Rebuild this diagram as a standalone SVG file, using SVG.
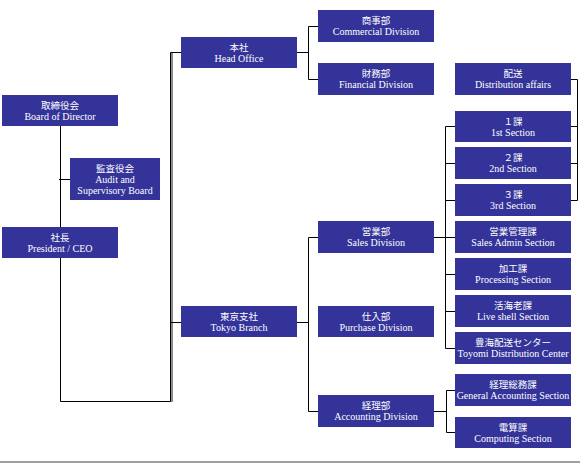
<svg xmlns="http://www.w3.org/2000/svg" width="580" height="463" viewBox="0 0 580 463">
<style>
.b{fill:#333399}
.t{fill:#ffffff;font-family:"Liberation Serif","Noto Sans CJK JP",serif;font-size:10px;text-anchor:middle}
.j{font-size:9.5px}
.c{stroke:#000;stroke-width:1;fill:none}
</style>
<rect width="580" height="463" fill="#fff"/>
<g id="connectors">
<rect x="171" y="53" width="2" height="349" fill="#8a8a8a"/>
<path class="c" d="M60.5,126V401.5H170.5V52.5H181"/>
<path class="c" d="M59,179.5H70"/>
<path class="c" d="M297,52.5H308.5M308.5,26.5V79.5M308.5,26.5H318M308.5,79.5H318"/>
<path class="c" d="M170.5,322.5H181M297,322.5H308.5M308.5,237.5V411.5M308.5,237.5H318M308.5,411.5H318"/>
<path class="c" d="M434,237.5H445.5M445.5,126.5V348.5M445.5,126.5H455M445.5,163.5H455M445.5,200.5H455M445.5,237.5H455M445.5,274.5H455M445.5,311.5H455M445.5,348.5H455"/>
<path class="c" d="M571,79.5H577.5V200.5H571M571,126.5H577.5M571,163.5H577.5"/>
<path class="c" d="M434,411.5H446.5M446.5,390.5V432.5M446.5,390.5H455M446.5,432.5H455"/>
<rect x="0" y="461" width="580" height="2" fill="#a0a0a0"/>
</g>
<g id="board"><rect class="b" x="2" y="95" width="116" height="31"/><text class="t j" x="60" y="109">取締役会</text><text class="t" x="60" y="120">Board of Director</text></g>
<g id="audit"><rect class="b" x="70" y="158" width="90" height="42"/><text class="t j" x="115" y="172">監査役会</text><text class="t" x="115" y="183">Audit and</text><text class="t" x="115" y="194">Supervisory Board</text></g>
<g id="president"><rect class="b" x="2" y="227" width="116" height="31"/><text class="t j" x="60" y="241">社長</text><text class="t" x="60" y="252">President / CEO</text></g>
<g id="head"><rect class="b" x="181" y="37" width="116" height="31"/><text class="t j" x="239" y="51">本社</text><text class="t" x="239" y="62">Head Office</text></g>
<g id="tokyo"><rect class="b" x="181" y="306" width="116" height="31"/><text class="t j" x="239" y="320">東京支社</text><text class="t" x="239" y="331">Tokyo Branch</text></g>
<g id="commercial"><rect class="b" x="318" y="10" width="116" height="32"/><text class="t j" x="376" y="24">商事部</text><text class="t" x="376" y="35">Commercial Division</text></g>
<g id="financial"><rect class="b" x="318" y="63" width="116" height="32"/><text class="t j" x="376" y="77">財務部</text><text class="t" x="376" y="88">Financial Division</text></g>
<g id="sales"><rect class="b" x="318" y="221" width="116" height="32"/><text class="t j" x="376" y="235">営業部</text><text class="t" x="376" y="246">Sales Division</text></g>
<g id="purchase"><rect class="b" x="318" y="306" width="116" height="31"/><text class="t j" x="376" y="320">仕入部</text><text class="t" x="376" y="331">Purchase Division</text></g>
<g id="accounting"><rect class="b" x="318" y="395" width="116" height="32"/><text class="t j" x="376" y="409">経理部</text><text class="t" x="376" y="420">Accounting Division</text></g>
<g id="distribution"><rect class="b" x="455" y="63" width="116" height="32"/><text class="t j" x="513" y="77">配送</text><text class="t" x="513" y="88">Distribution affairs</text></g>
<g id="sec1"><rect class="b" x="455" y="111" width="116" height="31"/><text class="t j" x="513" y="125">１課</text><text class="t" x="513" y="136">1st Section</text></g>
<g id="sec2"><rect class="b" x="455" y="147" width="116" height="32"/><text class="t j" x="513" y="161">２課</text><text class="t" x="513" y="172">2nd Section</text></g>
<g id="sec3"><rect class="b" x="455" y="184" width="116" height="32"/><text class="t j" x="513" y="198">３課</text><text class="t" x="513" y="209">3rd Section</text></g>
<g id="salesadmin"><rect class="b" x="455" y="221" width="116" height="32"/><text class="t j" x="513" y="235">営業管理課</text><text class="t" x="513" y="246">Sales Admin Section</text></g>
<g id="processing"><rect class="b" x="455" y="258" width="116" height="32"/><text class="t j" x="513" y="272">加工課</text><text class="t" x="513" y="283">Processing Section</text></g>
<g id="liveshell"><rect class="b" x="455" y="295" width="116" height="32"/><text class="t j" x="513" y="309">活海老課</text><text class="t" x="513" y="320">Live shell Section</text></g>
<g id="toyomi"><rect class="b" x="455" y="332" width="116" height="32"/><text class="t j" x="513" y="346">豊海配送センター</text><text class="t" x="513" y="357">Toyomi Distribution Center</text></g>
<g id="genacc"><rect class="b" x="455" y="374" width="116" height="32"/><text class="t j" x="513" y="388">経理総務課</text><text class="t" x="513" y="399">General Accounting Section</text></g>
<g id="computing"><rect class="b" x="455" y="417" width="116" height="31"/><text class="t j" x="513" y="431">電算課</text><text class="t" x="513" y="442">Computing Section</text></g>
</svg>
